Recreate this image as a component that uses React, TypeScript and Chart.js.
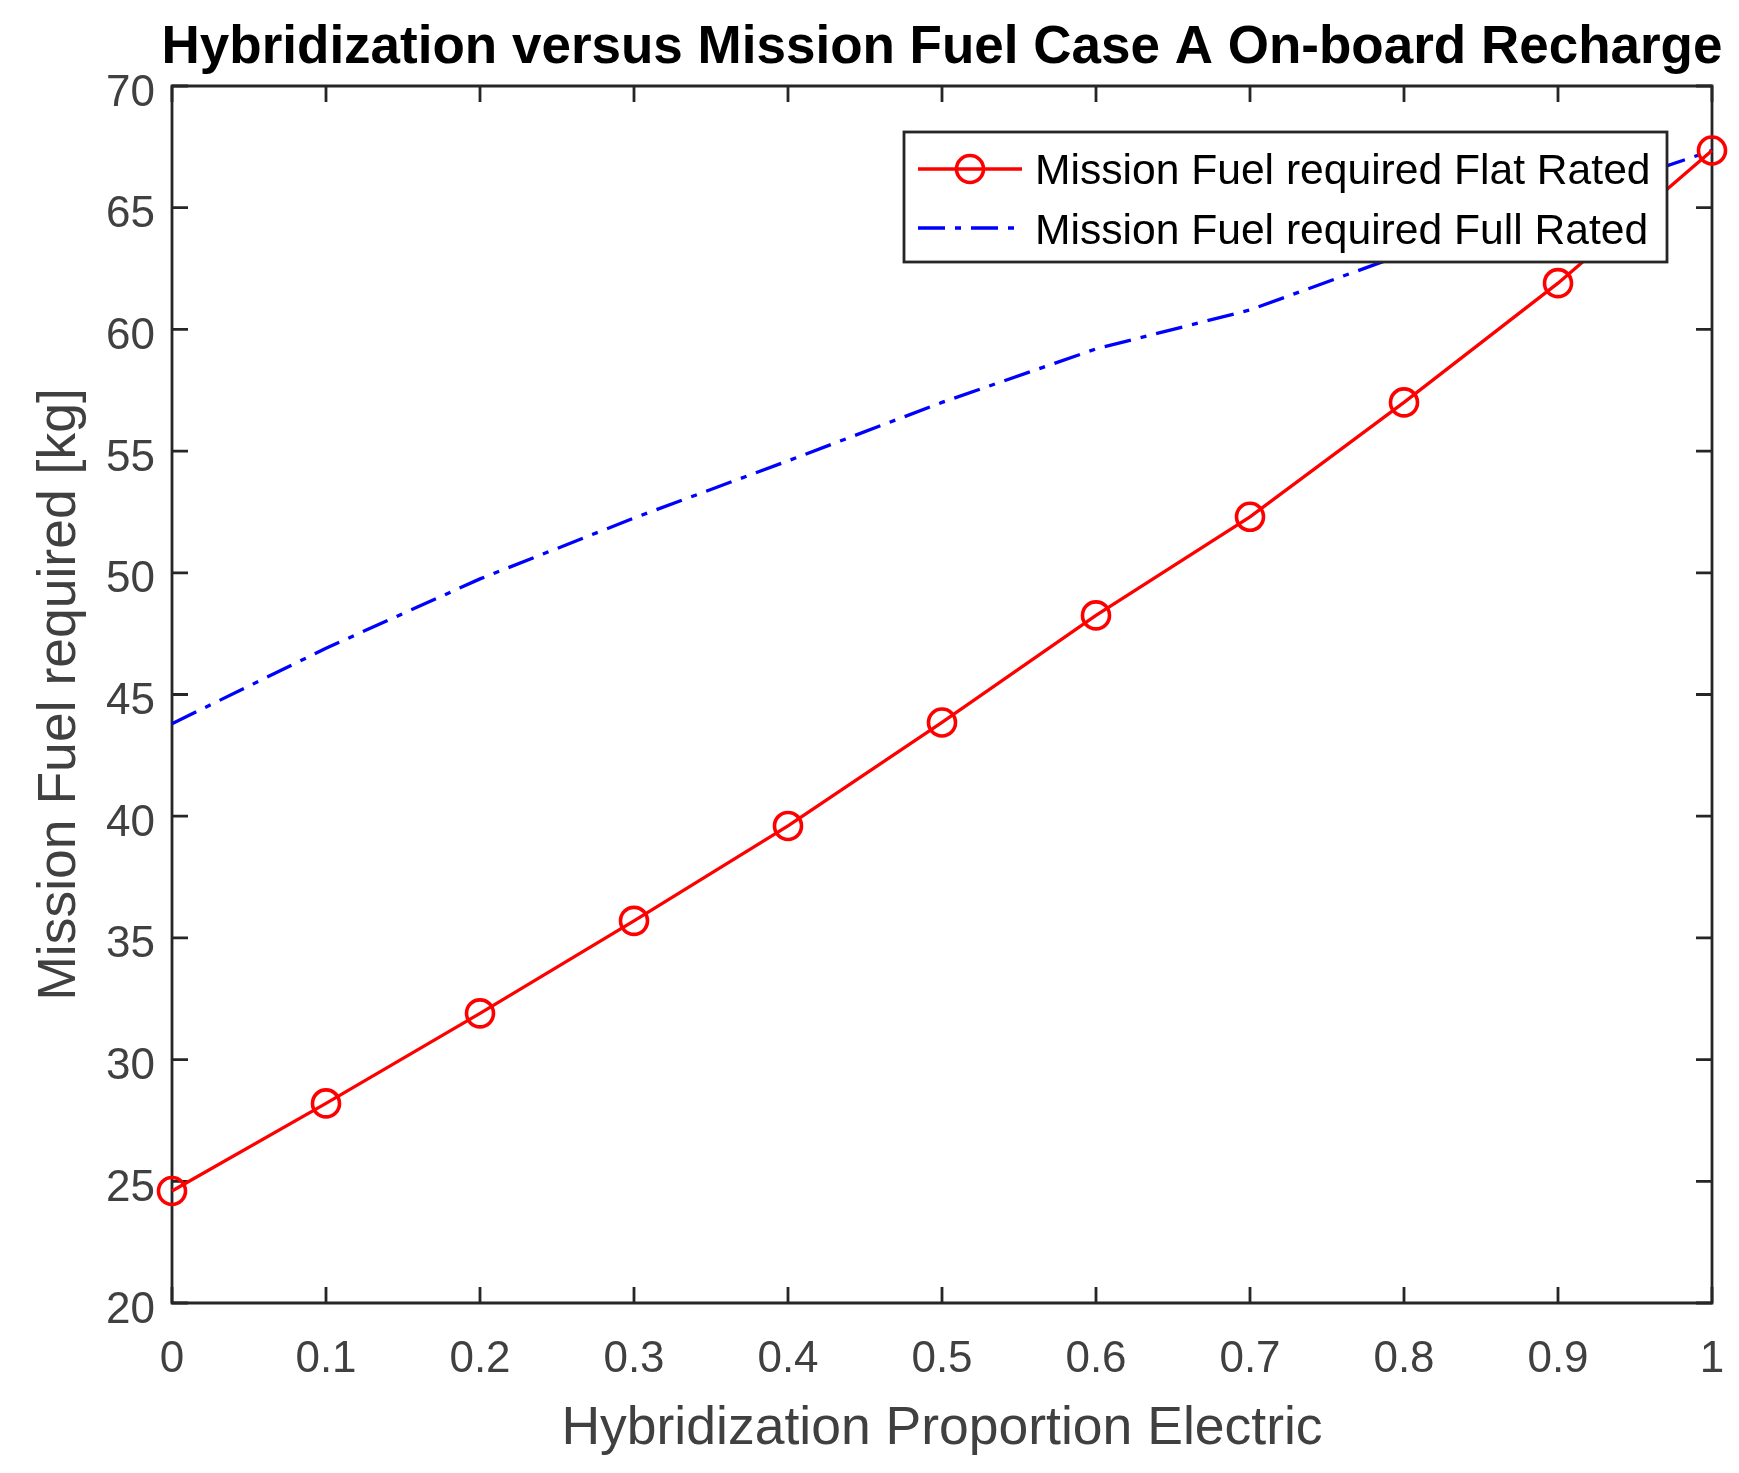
import { useEffect, useRef } from "react";
import { Chart, registerables } from "chart.js";

Chart.register(...registerables);

// values
const hybridization = [0, 0.1, 0.2, 0.3, 0.4, 0.5, 0.6, 0.7, 0.8, 0.9, 1];
const fuelFlatRated = [24.6, 28.2, 31.9, 35.7, 39.6, 43.85, 48.25, 52.3, 57.0, 61.9, 67.35];
const fuelFullRated = [43.8, 46.9, 49.75, 52.25, 54.6, 57.0, 59.2, 60.8, 63.1, 65.2, 67.35];

const xTicks = [0, 0.1, 0.2, 0.3, 0.4, 0.5, 0.6, 0.7, 0.8, 0.9, 1];
const xTickLabels = ["0", "0.1", "0.2", "0.3", "0.4", "0.5", "0.6", "0.7", "0.8", "0.9", "1"];
const yTicks = [20, 25, 30, 35, 40, 45, 50, 55, 60, 65, 70];
const yTickLabels = ["20", "25", "30", "35", "40", "45", "50", "55", "60", "65", "70"];

const seriesNames = ["Mission Fuel required Flat Rated", "Mission Fuel required Full Rated"];
const chartTitle = "Hybridization versus Mission Fuel Case A On-board Recharge";
const xTitle = "Hybridization Proportion Electric";
const yTitle = "Mission Fuel required [kg]";

const FONT = "'Liberation Sans', Arial, Helvetica, sans-serif";
const AXIS_COLOR = "#262626";
const LABEL_COLOR = "#404040";
const BLUE_DASH = [27, 10, 6, 10];

const matlabAxes = {
  id: "matlabAxes",
  beforeDatasetsDraw(chart: any) {
    const { ctx, chartArea: a, scales } = chart;
    const x = scales.x;
    const y = scales.y;
    const tick = 16;
    ctx.save();
    ctx.strokeStyle = AXIS_COLOR;
    ctx.lineWidth = 2.8;
    ctx.beginPath();
    ctx.rect(a.left, a.top, a.right - a.left, a.bottom - a.top);
    ctx.stroke();

    ctx.beginPath();
    xTicks.forEach((v) => {
      const px = x.getPixelForValue(v);
      ctx.moveTo(px, a.bottom);
      ctx.lineTo(px, a.bottom - tick);
      ctx.moveTo(px, a.top);
      ctx.lineTo(px, a.top + tick);
    });
    yTicks.forEach((v) => {
      const py = y.getPixelForValue(v);
      ctx.moveTo(a.left, py);
      ctx.lineTo(a.left + tick, py);
      ctx.moveTo(a.right, py);
      ctx.lineTo(a.right - tick, py);
    });
    ctx.stroke();

    ctx.fillStyle = LABEL_COLOR;
    ctx.font = `44px ${FONT}`;
    ctx.textBaseline = "alphabetic";
    ctx.textAlign = "center";
    xTicks.forEach((v, i) => {
      ctx.fillText(xTickLabels[i], x.getPixelForValue(v), a.bottom + 69);
    });
    ctx.textAlign = "right";
    yTicks.forEach((v, i) => {
      ctx.fillText(yTickLabels[i], a.left - 17, y.getPixelForValue(v) + 19.5);
    });

    ctx.font = `53.5px ${FONT}`;
    ctx.textAlign = "center";
    ctx.fillText(xTitle, (a.left + a.right) / 2, 1444);
    ctx.save();
    ctx.translate(75, (a.top + a.bottom) / 2);
    ctx.rotate(-Math.PI / 2);
    ctx.fillText(yTitle, 0, 0);
    ctx.restore();

    ctx.fillStyle = "#000000";
    ctx.font = `bold 53px ${FONT}`;
    ctx.fillText(chartTitle, (a.left + a.right) / 2, 63);
    ctx.restore();
  },
  afterDatasetsDraw(chart: any) {
    const { ctx } = chart;
    const box = { left: 904, top: 132, right: 1667, bottom: 262 };
    ctx.save();
    ctx.fillStyle = "#ffffff";
    ctx.fillRect(box.left, box.top, box.right - box.left, box.bottom - box.top);
    ctx.strokeStyle = AXIS_COLOR;
    ctx.lineWidth = 2.8;
    ctx.strokeRect(box.left, box.top, box.right - box.left, box.bottom - box.top);

    const rows = [169, 228];
    // flat rated sample
    ctx.strokeStyle = "#ff0000";
    ctx.lineWidth = 3.3;
    ctx.beginPath();
    ctx.moveTo(918, rows[0]);
    ctx.lineTo(1022, rows[0]);
    ctx.stroke();
    ctx.lineWidth = 3.6;
    ctx.beginPath();
    ctx.arc(970, rows[0], 13.5, 0, Math.PI * 2);
    ctx.stroke();
    // full rated sample
    ctx.strokeStyle = "#0000ff";
    ctx.lineWidth = 3.3;
    ctx.setLineDash(BLUE_DASH);
    ctx.beginPath();
    ctx.moveTo(918, rows[1]);
    ctx.lineTo(1022, rows[1]);
    ctx.stroke();
    ctx.setLineDash([]);

    ctx.fillStyle = "#000000";
    ctx.font = `42.6px ${FONT}`;
    ctx.textAlign = "left";
    ctx.textBaseline = "alphabetic";
    ctx.fillText(seriesNames[0], 1035, 184);
    ctx.fillText(seriesNames[1], 1035, 244);
    ctx.restore();
  },
};

export default function App() {
  const canvasRef = useRef<HTMLCanvasElement | null>(null);

  useEffect(() => {
    document.body.style.margin = "0";
    if (!canvasRef.current) return;

    const chart = new Chart(canvasRef.current.getContext("2d")!, {
      type: "line",
      data: {
        datasets: [
          {
            label: seriesNames[0],
            data: hybridization.map((h, i) => ({ x: h, y: fuelFlatRated[i] })),
            borderColor: "#ff0000",
            borderWidth: 3.3,
            pointStyle: "circle",
            pointRadius: 13.5,
            pointBorderWidth: 3.6,
            pointBorderColor: "#ff0000",
            pointBackgroundColor: "rgba(0,0,0,0)",
            tension: 0,
            clip: false,
          },
          {
            label: seriesNames[1],
            data: hybridization.map((h, i) => ({ x: h, y: fuelFullRated[i] })),
            borderColor: "#0000ff",
            borderWidth: 3.3,
            borderDash: BLUE_DASH,
            pointRadius: 0,
            tension: 0,
            clip: false,
          },
        ],
      },
      options: {
        animation: false,
        responsive: false,
        devicePixelRatio: 1,
        layout: { padding: { left: 172, right: 27, top: 86, bottom: 170 } },
        plugins: {
          legend: { display: false },
          tooltip: { enabled: false },
          title: { display: false },
        },
        scales: {
          x: { type: "linear", min: 0, max: 1, display: false },
          y: { type: "linear", min: 20, max: 70, display: false },
        },
      },
      plugins: [matlabAxes],
    });

    return () => chart.destroy();
  }, []);

  return (
    <div style={{ width: 1739, height: 1473, background: "#ffffff" }}>
      <canvas ref={canvasRef} width={1739} height={1473} style={{ display: "block" }} />
    </div>
  );
}
